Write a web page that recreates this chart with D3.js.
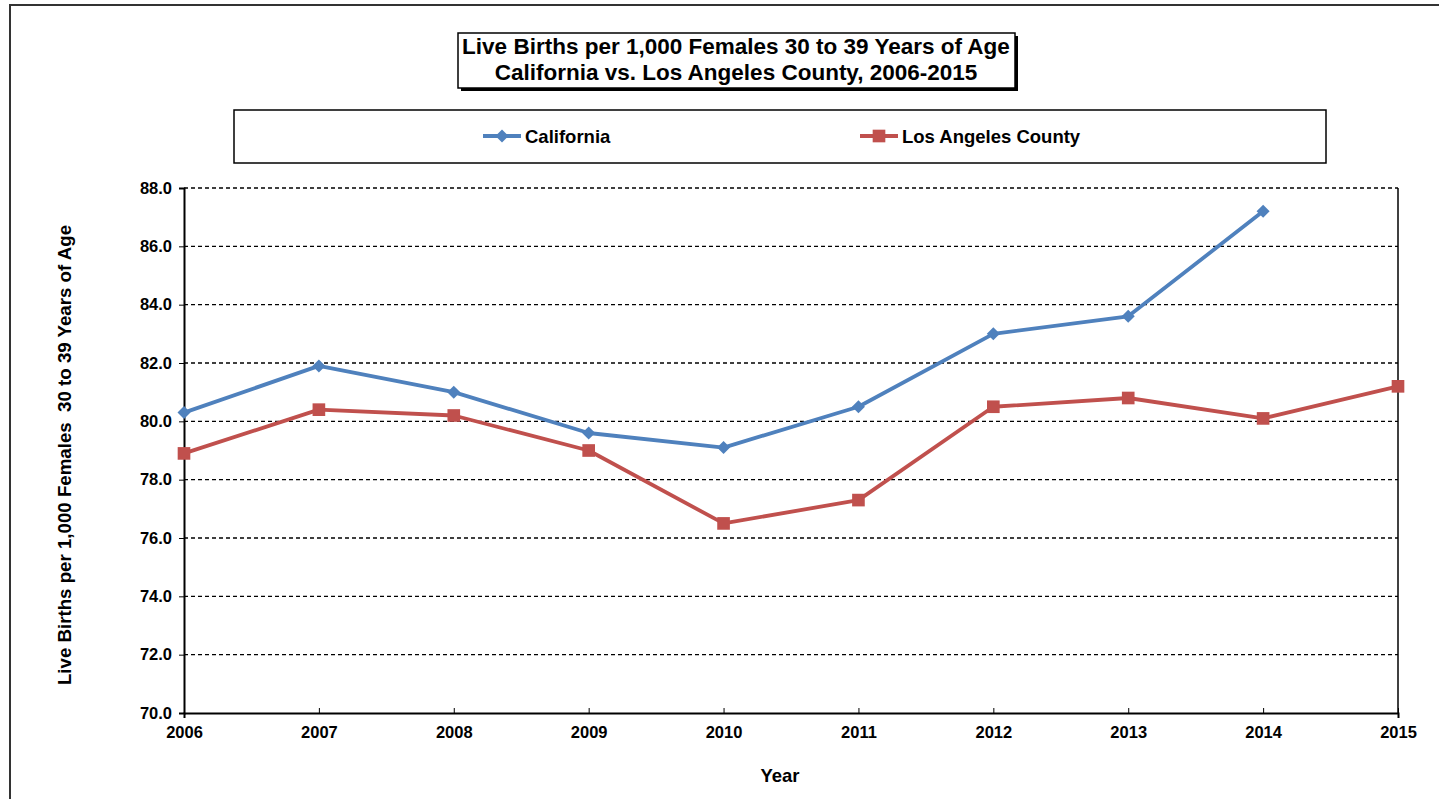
<!DOCTYPE html>
<html><head><meta charset="utf-8">
<script src="https://cdn.jsdelivr.net/npm/d3@7"></script>
<style>body{margin:0;background:#fff;}svg{display:block;font-family:"Liberation Sans",Arial,sans-serif;}</style>
</head><body>
<svg id="c" width="1439" height="799"></svg>
<script>
const years = [2006,2007,2008,2009,2010,2011,2012,2013,2014,2015];
const california = [80.3,81.9,81.0,79.6,79.1,80.5,83.0,83.6,87.2,null];
const losAngeles = [78.9,80.4,80.2,79.0,76.5,77.3,80.5,80.8,80.1,81.2];
const yTicks = [70,72,74,76,78,80,82,84,86,88];
const titleLines = ["Live Births per 1,000 Females 30 to 39 Years of Age","California vs. Los Angeles County, 2006-2015"];

const svg = d3.select("#c");
const L=184,R=1398,T=188,B=713;
const x = d3.scaleLinear().domain([2006,2015]).range([L,R]);
const y = d3.scaleLinear().domain([70,88]).range([B,T]);
const FF = "Liberation Sans, Arial, sans-serif";

// outer border
svg.append("rect").attr("x",10).attr("y",5).attr("width",1460).attr("height",820).attr("fill","none").attr("stroke","#333").attr("stroke-width",2);

// title box with shadow
svg.append("rect").attr("x",461).attr("y",36).attr("width",557).attr("height",55).attr("fill","#000");
svg.append("rect").attr("x",458).attr("y",33).attr("width",557).attr("height",55).attr("fill","#fff").attr("stroke","#000").attr("stroke-width",1.5);
titleLines.forEach((t,i)=>svg.append("text").attr("x",736).attr("y",54+i*26).attr("text-anchor","middle").style("font-size","22.5px").attr("font-weight","bold").text(t));

// legend box
svg.append("rect").attr("x",234).attr("y",110).attr("width",1092).attr("height",53).attr("fill","#fff").attr("stroke","#000").attr("stroke-width",1.5);

// gridlines
const grid = svg.append("g");
yTicks.filter(v=>v>70).forEach(v=>grid.append("line").attr("x1",L).attr("x2",R).attr("y1",y(v)).attr("y2",y(v)).attr("stroke","#000").attr("stroke-width",1.3).attr("stroke-dasharray","4,3"));

// right border
svg.append("line").attr("x1",R).attr("x2",R).attr("y1",T).attr("y2",B).attr("stroke","#000").attr("stroke-width",1.5);

// axes
const yAxis = d3.axisLeft(y).tickValues(yTicks).tickFormat(d3.format(".1f")).tickSize(5).tickPadding(7);
const gy = svg.append("g").attr("transform",`translate(${L},0)`).call(yAxis);
const xAxis = d3.axisBottom(x).tickValues(years).tickFormat(d3.format("d")).tickSize(5).tickPadding(6);
const gx = svg.append("g").attr("transform",`translate(0,${B})`).call(xAxis);
[gx,gy].forEach(g=>{g.attr("font-size",null).attr("font-family",null);g.select(".domain").attr("stroke","#000").attr("stroke-width",2);g.selectAll(".tick line").attr("stroke","#000");g.selectAll("text").style("font-size","16.5px").style("font-weight","bold").attr("fill","#000").style("font-family",FF);});
gx.selectAll(".tick line").attr("transform","translate(0,-5)");
gx.selectAll("text").attr("y",13).attr("dy","0.71em");

// axis titles
svg.append("text").attr("x",780).attr("y",782).attr("text-anchor","middle").style("font-size","18.5px").attr("font-weight","bold").text("Year");
svg.append("text").attr("transform","translate(71,455) rotate(-90)").attr("text-anchor","middle").style("font-size","18.7px").attr("font-weight","bold").style("white-space","pre").text("Live Births per 1,000 Females  30 to 39 Years of Age");

const blue="#4F81BD", red="#C0504D";
const line = d3.line().defined(d=>d[1]!=null).x(d=>x(d[0])).y(d=>y(d[1]));
const diamond = d3.symbol().type(d3.symbolSquare).size(85);
const square = d3.symbol().type(d3.symbolSquare).size(160);

function series(vals,color,sym,rot){
  const pts = years.map((yr,i)=>[yr,vals[i]]);
  svg.append("path").datum(pts).attr("d",line).attr("fill","none").attr("stroke",color).attr("stroke-width",3.8).attr("stroke-linejoin","round");
  svg.append("g").selectAll("path").data(pts.filter(d=>d[1]!=null)).join("path").attr("d",sym).attr("transform",d=>`translate(${x(d[0])},${y(d[1])}) rotate(${rot})`).attr("fill",color);
}
series(california,blue,diamond,45);
series(losAngeles,red,square,0);

// legend
function legendItem(lx,color,sym,rot,label){
  svg.append("line").attr("x1",lx).attr("x2",lx+38).attr("y1",136).attr("y2",136).attr("stroke",color).attr("stroke-width",3.8);
  svg.append("path").attr("d",sym).attr("transform",`translate(${lx+19},136) rotate(${rot})`).attr("fill",color);
  svg.append("text").attr("x",lx+42).attr("y",142.5).style("font-size","18.5px").attr("font-weight","bold").text(label);
}
legendItem(483,blue,diamond,45,"California");
legendItem(860,red,square,0,"Los Angeles County");
</script>
</body></html>
